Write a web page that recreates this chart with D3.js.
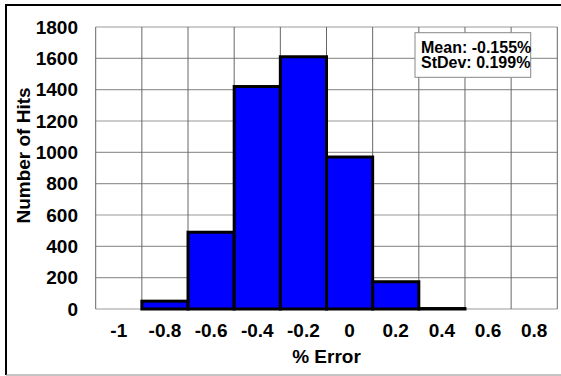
<!DOCTYPE html>
<html>
<head>
<meta charset="utf-8">
<script src="https://cdn.jsdelivr.net/npm/d3@7"></script>
<style>
  html, body { margin: 0; padding: 0; background: #fff; }
  svg { display: block; font-family: "Liberation Sans", Arial, sans-serif; }
</style>
</head>
<body>
<svg id="chart" width="561" height="376"></svg>
<script>
// Histogram of percentage error: bin centres and hit counts
const categories = ["-1", "-0.8", "-0.6", "-0.4", "-0.2", "0", "0.2", "0.4", "0.6", "0.8"];
const hits = [0, 50, 490, 1420, 1610, 970, 174, 3, 0, 0];
const yTicks = [0, 200, 400, 600, 800, 1000, 1200, 1400, 1600, 1800];
const statsLines = ["Mean: -0.155%", "StDev: 0.199%"];

const svg = d3.select("#chart");
const plot = { left: 95.7, right: 557.3, top: 27, bottom: 309 };

const x = d3.scaleBand().domain(categories).range([plot.left, plot.right]).paddingInner(0).paddingOuter(0);
const y = d3.scaleLinear().domain([0, 1800]).range([plot.bottom, plot.top]);

// Outer chart frame
svg.append("line").attr("x1", 6).attr("x2", 561).attr("y1", 5).attr("y2", 5)
  .attr("stroke", "#000").attr("stroke-width", 2);
svg.append("line").attr("x1", 6).attr("x2", 6).attr("y1", 4).attr("y2", 375)
  .attr("stroke", "#000").attr("stroke-width", 2);
svg.append("line").attr("x1", 6).attr("x2", 561).attr("y1", 375).attr("y2", 375)
  .attr("stroke", "#888").attr("stroke-width", 1);

// Horizontal gridlines
svg.append("g").selectAll("line").data(yTicks).join("line")
  .attr("x1", plot.left).attr("x2", plot.right)
  .attr("y1", d => y(d)).attr("y2", d => y(d))
  .attr("stroke", "#999").attr("stroke-width", 1.2);

// Vertical gridlines at category boundaries
const bounds = categories.map(c => x(c)).concat([x(categories[categories.length - 1]) + x.bandwidth()]);
svg.append("g").selectAll("line").data(bounds).join("line")
  .attr("x1", d => d).attr("x2", d => d)
  .attr("y1", plot.top).attr("y2", plot.bottom)
  .attr("stroke", "#666").attr("stroke-width", 1);

// Bars
svg.append("g").selectAll("rect").data(categories.map((c, i) => ({ c, v: hits[i] })).filter(d => d.v > 0)).join("rect")
  .attr("x", d => x(d.c))
  .attr("width", x.bandwidth())
  .attr("y", d => y(d.v))
  .attr("height", d => y(0) - y(d.v))
  .attr("fill", "#0000ff")
  .attr("stroke", "#000")
  .attr("stroke-width", 3);

// Y axis tick labels
svg.append("g").selectAll("text").data(yTicks).join("text")
  .attr("x", 78).attr("y", d => y(d))
  .attr("text-anchor", "end").attr("dominant-baseline", "central")
  .attr("font-size", 19).attr("font-weight", "bold").attr("fill", "#000")
  .text(d => d);

// X axis tick labels
svg.append("g").selectAll("text").data(categories).join("text")
  .attr("x", d => x(d) + x.bandwidth() / 2).attr("y", 337)
  .attr("text-anchor", "middle")
  .attr("font-size", 19).attr("font-weight", "bold").attr("fill", "#000")
  .text(d => d);

// Axis titles
svg.append("text")
  .attr("x", (plot.left + plot.right) / 2).attr("y", 363)
  .attr("text-anchor", "middle")
  .attr("font-size", 19).attr("font-weight", "bold")
  .text("% Error");

svg.append("text")
  .attr("transform", "translate(30,155.5) rotate(-90)")
  .attr("text-anchor", "middle")
  .attr("font-size", 19).attr("font-weight", "bold")
  .text("Number of Hits");

// Statistics box
const box = svg.append("g");
box.append("rect")
  .attr("x", 415).attr("y", 32.7).attr("width", 115.7).attr("height", 44.6)
  .attr("fill", "#fff").attr("stroke", "#888").attr("stroke-width", 1);
box.selectAll("text").data(statsLines).join("text")
  .attr("x", 421).attr("y", (d, i) => 52.5 + i * 15.8)
  .attr("font-size", 16).attr("font-weight", "bold")
  .text(d => d);
</script>
</body>
</html>
